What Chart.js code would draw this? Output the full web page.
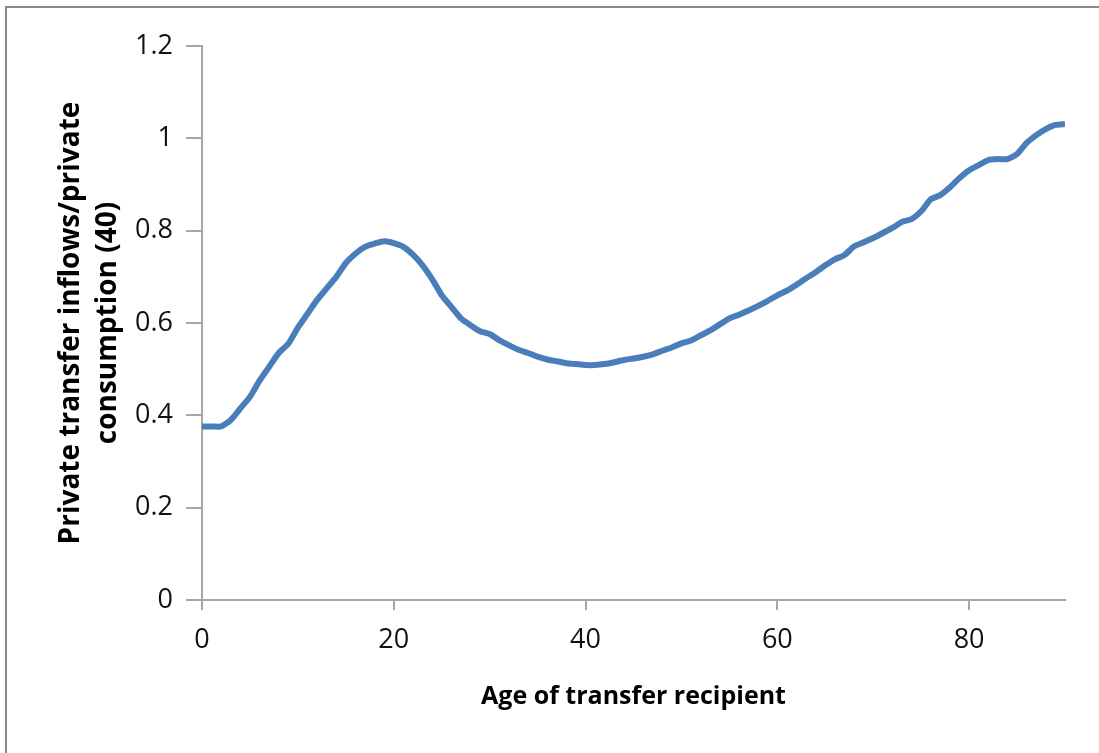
<!DOCTYPE html>
<html>
<head>
<meta charset="utf-8">
<script src="https://cdn.jsdelivr.net/npm/chart.js@4/dist/chart.umd.min.js"></script>
<style>
    html, body { margin: 0; padding: 0; background: #fff; overflow: hidden; }
    #wrap { position: relative; width: 1099px; height: 753px; }
    #frame {
        position: absolute; left: 5px; top: 6px; right: -10px; bottom: -10px;
        border-left: 2px solid #8a8a8a; border-top: 2px solid #8a8a8a;
    }
    #chart { position: absolute; left: 0; top: 0; }
</style>
</head>
<body>
<div id="wrap">
    <div id="frame"></div>
    <canvas id="chart" width="1099" height="753"></canvas>
</div>
<script>
// Age of transfer recipient
const ages = [
    0, 1, 2, 3, 4, 5, 6, 7, 8, 9,
    10, 11, 12, 13, 14, 15, 16, 17, 18, 19,
    20, 21, 22, 23, 24, 25, 26, 27, 28, 29,
    30, 31, 32, 33, 34, 35, 36, 37, 38, 39,
    40, 41, 42, 43, 44, 45, 46, 47, 48, 49,
    50, 51, 52, 53, 54, 55, 56, 57, 58, 59,
    60, 61, 62, 63, 64, 65, 66, 67, 68, 69,
    70, 71, 72, 73, 74, 75, 76, 77, 78, 79,
    80, 81, 82, 83, 84, 85, 86, 87, 88, 89,
    90
];

// Private transfer inflows / private consumption (40)
const ratio = [
    0.376, 0.376, 0.376, 0.390, 0.415, 0.440, 0.475, 0.505, 0.535, 0.555,
    0.590, 0.620, 0.650, 0.675, 0.700, 0.730, 0.750, 0.765, 0.772, 0.777,
    0.773, 0.765, 0.748, 0.725, 0.695, 0.660, 0.635, 0.610, 0.595, 0.582,
    0.576, 0.563, 0.552, 0.542, 0.535, 0.527, 0.521, 0.517, 0.513, 0.511,
    0.509, 0.509, 0.511, 0.515, 0.520, 0.523, 0.527, 0.532, 0.540, 0.547,
    0.556, 0.562, 0.573, 0.584, 0.597, 0.610, 0.618, 0.627, 0.637, 0.648,
    0.660, 0.670, 0.683, 0.697, 0.710, 0.725, 0.738, 0.747, 0.766, 0.775,
    0.784, 0.795, 0.806, 0.819, 0.825, 0.842, 0.868, 0.877, 0.894, 0.914,
    0.931, 0.942, 0.953, 0.955, 0.955, 0.966, 0.990, 1.007, 1.020, 1.029,
    1.031
];

const xTicks = [0, 20, 40, 60, 80];
const yTitle = ['Private transfer inflows/private', 'consumption (40)'];
const xTitle = 'Age of transfer recipient';

const axisGray = '#a6a6a6';
const fontFamily = '"Open Sans", "DejaVu Sans", sans-serif';

document.addEventListener('DOMContentLoaded', () => {
    new Chart(document.getElementById('chart'), {
        type: 'line',
        data: {
            datasets: [{
                data: ages.map((a, i) => ({ x: a, y: ratio[i] })),
                borderColor: '#4a7ebb',
                borderWidth: 6,
                pointRadius: 0,
                tension: 0.2,
                fill: false
            }]
        },
        options: {
            responsive: false,
            animation: false,
            layout: { padding: { left: 0, top: 46, right: 34, bottom: 0 } },
            plugins: {
                legend: { display: false },
                tooltip: { enabled: false }
            },
            scales: {
                x: {
                    type: 'linear',
                    min: 0,
                    max: 90,
                    afterBuildTicks: (s) => { s.ticks = xTicks.map(v => ({ value: v })); },
                    afterFit: (s) => { s.height = 153; },
                    border: { color: axisGray, width: 2 },
                    grid: { drawOnChartArea: false, drawTicks: true, tickLength: 10, color: axisGray, lineWidth: 2 },
                    ticks: {
                        padding: 14,
                        color: '#111',
                        font: { family: fontFamily, size: 27 },
                        maxRotation: 0
                    },
                    title: {
                        display: true,
                        text: xTitle,
                        color: '#000',
                        font: { family: fontFamily, size: 25, weight: 'bold', lineHeight: '30px' },
                        padding: { top: 0, bottom: 41 }
                    }
                },
                y: {
                    min: 0,
                    max: 1.2,
                    ticks: {
                        stepSize: 0.2,
                        padding: 13,
                        color: '#111',
                        font: { family: fontFamily, size: 27 },
                        callback: (v) => String(Math.round(v * 10) / 10)
                    },
                    afterFit: (s) => { s.width = 202; },
                    border: { color: axisGray, width: 2 },
                    grid: { drawOnChartArea: false, drawTicks: true, tickLength: 16, color: axisGray, lineWidth: 2 },
                    title: {
                        display: true,
                        text: yTitle,
                        color: '#000',
                        font: { family: fontFamily, size: 28, weight: 'bold', lineHeight: '37px' },
                        padding: { top: 53, bottom: 0 }
                    }
                }
            }
        }
    });
});
</script>
</body>
</html>
